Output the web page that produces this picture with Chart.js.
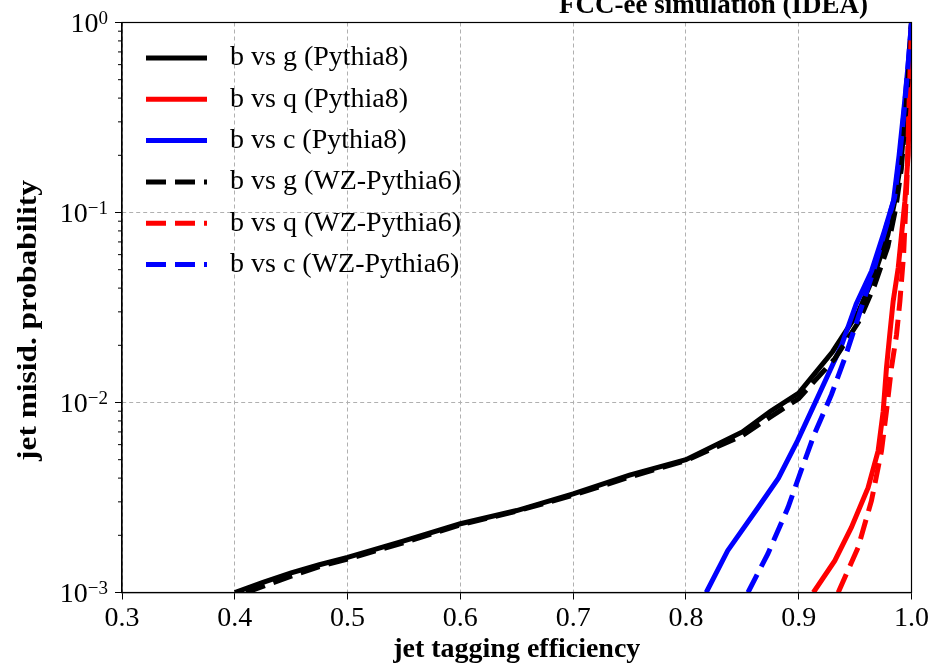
<!DOCTYPE html>
<html>
<head>
<meta charset="utf-8">
<script src="https://cdn.jsdelivr.net/npm/chart.js@4.4.0/dist/chart.umd.min.js"></script>
<style>
  body { margin: 0; background: #fff; }
  #wrap { width: 931px; height: 665px; }
</style>
</head>
<body>
<div id="wrap"><canvas id="roc" width="931" height="665"></canvas></div>
<script>
// axis ticks
const xTicks = [0.3, 0.4, 0.5, 0.6, 0.7, 0.8, 0.9, 1.0]
const yTicks = [1e-3, 1e-2, 1e-1, 1]
const yExponents = ['\u22123', '\u22122', '\u22121', '0']

const plotTitle = 'FCC-ee simulation (IDEA)'
const xTitle = 'jet tagging efficiency'
const yTitle = 'jet misid. probability'

// b vs g (Pythia8)
const gP8Eff = [0.400, 0.425, 0.450, 0.475, 0.500, 0.550, 0.600, 0.650, 0.700, 0.750, 0.800, 0.850, 0.875, 0.900, 0.930, 0.953, 0.967, 0.979, 0.985, 0.991, 0.9955, 0.998, 1.000]
const gP8Mis = [1.00e-3, 1.13e-3, 1.27e-3, 1.40e-3, 1.53e-3, 1.87e-3, 2.30e-3, 2.70e-3, 3.30e-3, 4.15e-3, 5.00e-3, 7.00e-3, 9.0e-3, 1.12e-2, 1.85e-2, 3.0e-2, 4.7e-2, 7.6e-2, 0.114, 0.19, 0.40, 0.65, 1.0]

// b vs q (Pythia8)
const qP8Eff = [0.913, 0.932, 0.9467, 0.9615, 0.9704, 0.9749, 0.9778, 0.9807, 0.9837, 0.9882, 0.9941, 0.997, 0.9985, 1.0]
const qP8Mis = [1.0e-3, 1.47e-3, 2.2e-3, 3.56e-3, 5.56e-3, 9.0e-3, 1.52e-2, 2.27e-2, 3.4e-2, 5.1e-2, 0.114, 0.2, 0.45, 1.0]

// b vs c (Pythia8)
const cP8Eff = [0.818, 0.837, 0.864, 0.882, 0.899, 0.914, 0.926, 0.938, 0.951, 0.9645, 0.976, 0.984, 0.989, 0.9935, 0.997, 1.0]
const cP8Mis = [1.0e-3, 1.66e-3, 2.8e-3, 4.0e-3, 6.3e-3, 9.8e-3, 1.4e-2, 2.0e-2, 3.3e-2, 4.9e-2, 8.0e-2, 0.115, 0.2, 0.36, 0.6, 1.0]

// b vs g (WZ-Pythia6)
const gP6Eff = [0.410, 0.450, 0.475, 0.500, 0.550, 0.600, 0.650, 0.700, 0.750, 0.800, 0.850, 0.875, 0.900, 0.932, 0.953, 0.967, 0.979, 0.986, 0.991, 0.9955, 0.998, 1.000]
const gP6Mis = [1.00e-3, 1.22e-3, 1.37e-3, 1.50e-3, 1.83e-3, 2.27e-3, 2.68e-3, 3.25e-3, 4.05e-3, 4.95e-3, 6.7e-3, 8.4e-3, 1.05e-2, 1.7e-2, 2.65e-2, 4.1e-2, 6.6e-2, 0.105, 0.17, 0.38, 0.63, 1.0]

// b vs q (WZ-Pythia6)
const qP6Eff = [0.935, 0.9527, 0.9645, 0.9734, 0.9778, 0.9822, 0.9867, 0.9897, 0.993, 0.996, 0.998, 1.0]
const qP6Mis = [1.0e-3, 1.73e-3, 3.04e-3, 5.56e-3, 9.0e-3, 1.52e-2, 2.27e-2, 3.4e-2, 6.0e-2, 0.15, 0.4, 1.0]

// b vs c (WZ-Pythia6)
const cP6Eff = [0.855, 0.8727, 0.8905, 0.902, 0.9138, 0.929, 0.9407, 0.9527, 0.9671, 0.977, 0.985, 0.990, 0.994, 0.997, 1.0]
const cP6Mis = [1.0e-3, 1.6e-3, 2.8e-3, 4.36e-3, 6.8e-3, 1.1e-2, 1.7e-2, 2.8e-2, 5.1e-2, 8.2e-2, 0.12, 0.21, 0.37, 0.6, 1.0]

const serif = "'Liberation Serif', 'Times New Roman', serif"
const dash = [20, 9]

function series(label, xs, ys, color, dashed, idx) {
    return {
        label: label,
        data: xs.map((x, i) => ({ x: x, y: ys[i] })),
        borderColor: color,
        backgroundColor: color,
        borderWidth: 5,
        borderDash: dashed ? dash : [],
        pointRadius: 0,
        fill: false,
        clip: 0,
        order: 5 - idx   // later series on top, like matplotlib
    }
}

const datasets = [
    series('b vs g (Pythia8)', gP8Eff, gP8Mis, '#000000', false, 0),
    series('b vs q (Pythia8)', qP8Eff, qP8Mis, '#ff0000', false, 1),
    series('b vs c (Pythia8)', cP8Eff, cP8Mis, '#0000ff', false, 2),
    series('b vs g (WZ-Pythia6)', gP6Eff, gP6Mis, '#000000', true, 3),
    series('b vs q (WZ-Pythia6)', qP6Eff, qP6Mis, '#ff0000', true, 4),
    series('b vs c (WZ-Pythia6)', cP6Eff, cP6Mis, '#0000ff', true, 5)
]

// frame, minor ticks, 10^n labels, y title, legend and title
const decorations = {
    id: 'decorations',
    afterDraw(chart) {
        const ctx = chart.ctx
        const area = chart.chartArea
        const yScale = chart.scales.y
        ctx.save()

        ctx.strokeStyle = '#000'
        ctx.lineWidth = 1.2
        ctx.setLineDash([])
        ctx.strokeRect(area.left, area.top, area.right - area.left, area.bottom - area.top)

        // minor ticks on the log axis
        ctx.lineWidth = 1
        for (let i = 0; i < yTicks.length - 1; i++) {
            for (let m = 2; m <= 9; m++) {
                const py = yScale.getPixelForValue(yTicks[i] * m)
                ctx.beginPath()
                ctx.moveTo(area.left - 4, py)
                ctx.lineTo(area.left, py)
                ctx.stroke()
            }
        }

        // 10^n labels
        ctx.fillStyle = '#000'
        ctx.textBaseline = 'alphabetic'
        ctx.textAlign = 'left'
        yTicks.forEach((v, i) => {
            const py = yScale.getPixelForValue(v)
            ctx.font = '19px ' + serif
            const ew = ctx.measureText(yExponents[i]).width
            ctx.font = '28px ' + serif
            const bw = ctx.measureText('10').width
            const right = area.left - 14
            ctx.fillText('10', right - ew - bw, py + 9)
            ctx.font = '19px ' + serif
            ctx.fillText(yExponents[i], right - ew, py + 1)
        })

        // y axis title, a bit stretched along its length like the source figure
        ctx.save()
        ctx.translate(29, (area.top + area.bottom) / 2 + 13)
        ctx.rotate(-Math.PI / 2)
        ctx.scale(1.12, 1)
        ctx.font = 'bold 28px ' + serif
        ctx.textAlign = 'center'
        ctx.textBaseline = 'middle'
        ctx.fillText(yTitle, 0, 0)
        ctx.restore()

        // legend
        chart.data.datasets.forEach((ds, i) => {
            const rowY = area.top + 35.5 + i * 41.3
            ctx.strokeStyle = ds.borderColor
            ctx.lineWidth = 5
            ctx.setLineDash(ds.borderDash)
            ctx.beginPath()
            ctx.moveTo(146, rowY)
            ctx.lineTo(207, rowY)
            ctx.stroke()
            ctx.setLineDash([])
            ctx.fillStyle = '#000'
            ctx.font = '28px ' + serif
            ctx.textAlign = 'left'
            ctx.textBaseline = 'middle'
            ctx.fillText(ds.label, 230, rowY)
        })

        // title, cut off at the top edge
        ctx.font = 'bold 27px ' + serif
        ctx.textAlign = 'right'
        ctx.textBaseline = 'alphabetic'
        ctx.fillText(plotTitle, 868, 13)

        ctx.restore()
    }
}

const ctx = document.getElementById('roc').getContext('2d')
const chart = new Chart(ctx, {
    type: 'line',
    data: { datasets: datasets },
    plugins: [decorations],
    options: {
        responsive: false,
        animation: false,
        layout: { padding: { top: 22.5, right: 19.5, left: 0, bottom: 0 } },
        plugins: {
            legend: { display: false },
            tooltip: { enabled: false }
        },
        scales: {
            x: {
                type: 'linear',
                min: 0.3,
                max: 1.0,
                afterBuildTicks: s => { s.ticks = xTicks.map(v => ({ value: v })) },
                afterFit: s => { s.height = 72.5 },
                ticks: {
                    color: '#000',
                    font: { family: serif, size: 28 },
                    padding: 2,
                    maxRotation: 0,
                    callback: v => Number(v).toFixed(1)
                },
                grid: { color: '#b0b0b0', lineWidth: 1, tickLength: 7, tickColor: '#000', tickWidth: 1 },
                border: { display: true, color: '#000', width: 1.2, dash: [4, 3] },
                title: {
                    display: true,
                    text: xTitle,
                    color: '#000',
                    font: { family: serif, size: 28, weight: 'bold' },
                    padding: { top: 0, bottom: -2 }
                }
            },
            y: {
                type: 'logarithmic',
                min: 1e-3,
                max: 1,
                afterBuildTicks: s => { s.ticks = yTicks.map(v => ({ value: v })) },
                afterFit: s => { s.width = 122 },
                ticks: { display: false },
                grid: { color: '#b0b0b0', lineWidth: 1, tickLength: 7, tickColor: '#000', tickWidth: 1 },
                border: { display: true, color: '#000', width: 1.2, dash: [4, 3] },
                title: { display: false }
            }
        }
    }
})
</script>
</body>
</html>
